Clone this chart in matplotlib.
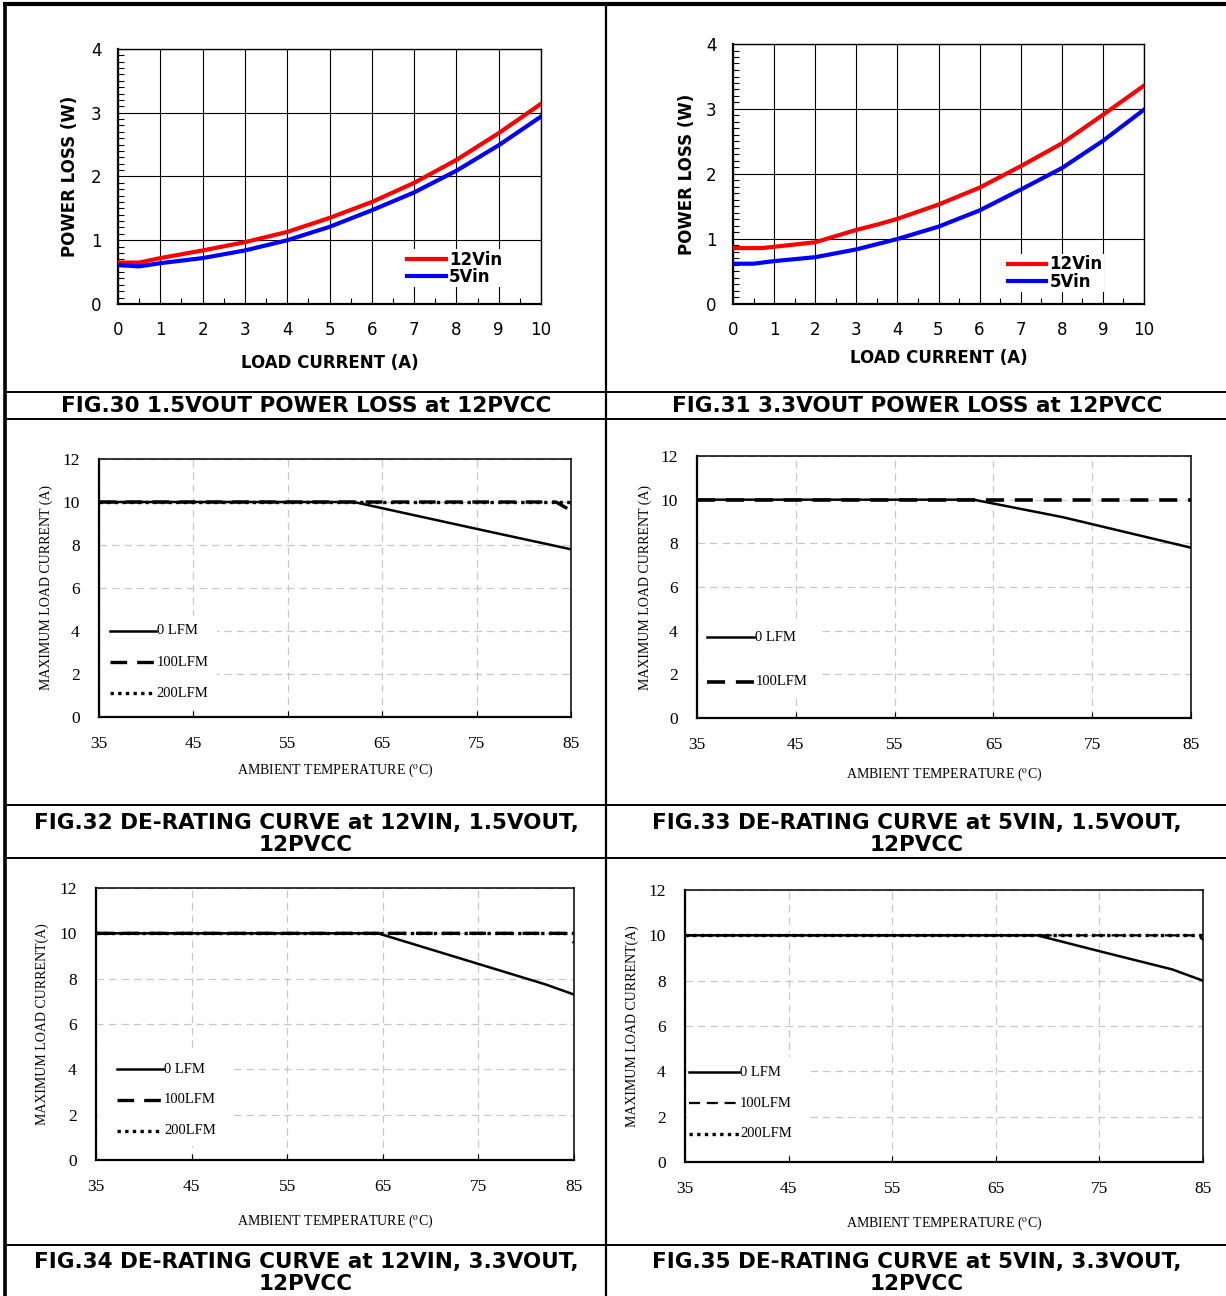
import matplotlib
matplotlib.use("Agg")
import matplotlib.pyplot as plt
from matplotlib.lines import Line2D
from matplotlib.ticker import MultipleLocator

W, H = 1226, 1296
DPI = 100
plt.rcParams['mathtext.fontset'] = 'stix'

# ---------------- DATA ----------------
# FIG.30 1.5VOUT power loss
f30_x12 = [0, 0.5, 1, 1.5, 2, 3, 4, 5, 6, 7, 8, 9, 10]
f30_y12 = [0.65, 0.65, 0.72, 0.78, 0.84, 0.97, 1.13, 1.35, 1.60, 1.90, 2.26, 2.68, 3.14]
f30_x5 = [0, 0.5, 1, 2, 3, 4, 5, 6, 7, 8, 9, 10]
f30_y5 = [0.61, 0.59, 0.64, 0.72, 0.84, 1.00, 1.21, 1.47, 1.75, 2.09, 2.49, 2.94]

# FIG.31 3.3VOUT power loss
f31_x12 = [0, 0.7, 1, 2, 3, 3.5, 4, 5, 6, 7, 8, 9, 10]
f31_y12 = [0.86, 0.86, 0.88, 0.95, 1.14, 1.22, 1.31, 1.53, 1.79, 2.12, 2.47, 2.91, 3.36]
f31_x5 = [0, 0.5, 1, 2, 3, 4, 5, 6, 7, 8, 9, 10]
f31_y5 = [0.62, 0.62, 0.66, 0.72, 0.84, 1.00, 1.19, 1.44, 1.76, 2.09, 2.51, 2.99]

# FIG.32 de-rating 12VIN 1.5VOUT
f32_t0 = [35, 62, 75, 85]
f32_i0 = [10, 10, 8.75, 7.8]
f32_t100 = [35, 83.4, 85]
f32_i100 = [10, 10, 9.6]
f32_t200 = [35, 85]
f32_i200 = [10, 10]

# FIG.33 de-rating 5VIN 1.5VOUT
f33_t0 = [35, 63, 72, 85]
f33_i0 = [10, 10, 9.2, 7.8]
f33_t100 = [35, 85]
f33_i100 = [10, 10]

# FIG.34 de-rating 12VIN 3.3VOUT
f34_t0 = [35, 64.5, 75, 82, 85]
f34_i0 = [10, 10, 8.65, 7.75, 7.3]
f34_t100 = [35, 84, 85]
f34_i100 = [10, 10, 9.6]
f34_t200 = [35, 85]
f34_i200 = [10, 10]

# FIG.35 de-rating 5VIN 3.3VOUT
f35_t0 = [35, 69, 75, 82, 85]
f35_i0 = [10, 10, 9.3, 8.5, 8.0]
f35_t100 = [35, 84.5, 85]
f35_i100 = [10, 10, 9.8]
f35_t200 = [35, 85]
f35_i200 = [10, 10]

loss_xticks = list(range(0, 11))
loss_yticks = [0, 1, 2, 3, 4]
temp_xticks = [35, 45, 55, 65, 75, 85]
cur_yticks = [0, 2, 4, 6, 8, 10, 12]

captions = [
    ("FIG.30 1.5VOUT POWER LOSS at 12PVCC", 306, 406),
    ("FIG.31 3.3VOUT POWER LOSS at 12PVCC", 917, 406),
    ("FIG.32 DE-RATING CURVE at 12VIN, 1.5VOUT,\n12PVCC", 306, 834),
    ("FIG.33 DE-RATING CURVE at 5VIN, 1.5VOUT,\n12PVCC", 917, 834),
    ("FIG.34 DE-RATING CURVE at 12VIN, 3.3VOUT,\n12PVCC", 306, 1273),
    ("FIG.35 DE-RATING CURVE at 5VIN, 3.3VOUT,\n12PVCC", 917, 1273),
]

fig = plt.figure(figsize=(W / DPI, H / DPI), dpi=DPI)
fig.patch.set_facecolor('white')


def box(l, t, r, b):
    return [l / W, 1 - b / H, (r - l) / W, (b - t) / H]


def fx(x):
    return x / W


def fy(y):
    return 1 - y / H


# ---------------- table lines ----------------
def hline(y, x0, x1, lw):
    fig.add_artist(Line2D([fx(x0), fx(x1)], [fy(y), fy(y)], color='black', lw=lw,
                          transform=fig.transFigure, solid_capstyle='butt'))


def vline(x, y0, y1, lw):
    fig.add_artist(Line2D([fx(x), fx(x)], [fy(y0), fy(y1)], color='black', lw=lw,
                          transform=fig.transFigure, solid_capstyle='butt'))


hline(4, 3, W, 3.0)
vline(4.5, 2, H, 2.6)
vline(606, 2, H, 1.6)
for yy in (392, 419, 805, 858, 1245):
    hline(yy, 4, W, 1.4)

# ---------------- power loss charts ----------------
def loss_chart(rect, x12, y12, x5, y5, leg_anchor, ylab_x, xlab_y):
    ax = fig.add_axes(rect)
    ax.plot(x12, y12, color='#ff0000', lw=3.0, label='12Vin', zorder=3)
    ax.plot(x5, y5, color='#0000ff', lw=3.0, label='5Vin', zorder=3)
    ax.set_xlim(0, 10)
    ax.set_ylim(0, 4)
    ax.set_xticks(loss_xticks)
    ax.set_yticks(loss_yticks)
    ax.xaxis.set_minor_locator(MultipleLocator(0.5))
    ax.yaxis.set_minor_locator(MultipleLocator(0.1))
    ax.grid(True, which='major', color='black', lw=0.8)
    ax.tick_params(which='both', direction='in', length=4, width=0.8, labelsize=12,
                   pad=12)
    ax.tick_params(which='major', length=0)
    for s in ax.spines.values():
        s.set_linewidth(1.0)
    ax.spines['left'].set_linewidth(1.6)
    ax.spines['bottom'].set_linewidth(1.6)
    ax.legend(loc='lower left', bbox_to_anchor=leg_anchor, frameon=True,
              fancybox=False, edgecolor='none', facecolor='white', framealpha=1,
              prop={'weight': 'bold', 'size': 12}, handlelength=2.3,
              handletextpad=0.2, labelspacing=-0.05, borderpad=0.1,
              borderaxespad=0)
    ax.set_ylabel('POWER LOSS (W)', fontsize=12, fontweight='bold')
    ax.yaxis.set_label_coords(ylab_x, 0.5)
    ax.set_xlabel('LOAD CURRENT (A)', fontsize=12, fontweight='bold')
    ax.xaxis.set_label_coords(0.5, xlab_y)
    return ax


loss_chart(box(118, 49, 541, 304), f30_x12, f30_y12, f30_x5, f30_y5,
           (0.68, 0.065), -0.092, -0.195)
loss_chart(box(733, 44, 1144, 304), f31_x12, f31_y12, f31_x5, f31_y5,
           (0.665, 0.045), -0.09, -0.175)

# ---------------- de-rating charts ----------------
SERIF = 'Liberation Serif'


def derate_chart(rect, series, leg_x0, leg_ys, ylabel, ylab_x, xlab_y, leg_bg_right):
    ax = fig.add_axes(rect)
    ax.set_xlim(35, 85)
    ax.set_ylim(0, 12)
    ax.set_xticks(temp_xticks)
    ax.set_yticks(cur_yticks)
    ax.grid(True, color='#c8c8c8', lw=0.9, ls=(0, (6, 4)))
    ax.set_axisbelow(True)
    ax.tick_params(direction='in', length=4, width=0.8, labelsize=12.5, pad=14,
                   left=False)
    for lab in ax.get_xticklabels() + ax.get_yticklabels():
        lab.set_fontfamily(SERIF)
    for s in ax.spines.values():
        s.set_linewidth(1.1)
    ax.spines['bottom'].set_linewidth(1.6)
    ax.spines['left'].set_linewidth(1.6)
    # legend background (white patch covering grid)
    ax.add_patch(plt.Rectangle((35.2, leg_ys[-1] - 0.7), leg_bg_right - 35.2,
                               leg_ys[0] - leg_ys[-1] + 1.4, facecolor='white',
                               edgecolor='none', zorder=1.5))
    for (xs, ys, style, lw, lab), ly in zip(series, leg_ys):
        ax.plot(xs, ys, color='black', lw=lw, ls=style, zorder=3 if style == '-' else 2.5)
        ax.plot([leg_x0, leg_x0 + 4.8], [ly, ly], color='black', lw=lw, ls=style,
                zorder=3)
        ax.text(leg_x0 + 4.9, ly, lab, fontsize=10.5, family=SERIF, va='center',
                ha='left', zorder=3)
    ax.set_ylabel(ylabel, fontsize=10, family=SERIF)
    ax.yaxis.set_label_coords(ylab_x, 0.5)
    ax.set_xlabel(r'AMBIENT TEMPERATURE ($^{\mathrm{o}}$C)', fontsize=10, family=SERIF)
    ax.xaxis.set_label_coords(0.5, xlab_y)
    return ax


DASH = (0, (5, 3))
DOT = (0, (1, 1.3))

derate_chart(box(99, 459, 571, 717),
             [(f32_t0, f32_i0, '-', 1.8, '0 LFM'),
              (f32_t100, f32_i100, DASH, 2.4, '100LFM'),
              (f32_t200, f32_i200, DOT, 2.4, '200LFM')],
             36.2, [4.0, 2.55, 1.1], 'MAXIMUM LOAD CURRENT (A)', -0.098, -0.175, 47.5)

derate_chart(box(697, 456, 1191, 718),
             [(f33_t0, f33_i0, '-', 1.8, '0 LFM'),
              (f33_t100, f33_i100, DASH, 2.6, '100LFM')],
             36.0, [3.7, 1.65], 'MAXIMUM LOAD CURRENT (A)', -0.091, -0.18, 47.5)

derate_chart(box(96, 888, 574, 1160),
             [(f34_t0, f34_i0, '-', 1.8, '0 LFM'),
              (f34_t100, f34_i100, DASH, 2.4, '100LFM'),
              (f34_t200, f34_i200, DOT, 2.4, '200LFM')],
             37.2, [4.0, 2.65, 1.3], 'MAXIMUM LOAD CURRENT(A)', -0.098, -0.195, 49.0)

derate_chart(box(685, 890, 1203, 1162),
             [(f35_t0, f35_i0, '-', 1.8, '0 LFM'),
              (f35_t100, f35_i100, DASH, 1.6, '100LFM'),
              (f35_t200, f35_i200, DOT, 2.4, '200LFM')],
             35.4, [3.95, 2.6, 1.25], 'MAXIMUM LOAD CURRENT(A)', -0.089, -0.195, 47.0)

# ---------------- captions ----------------
for txt, cx, cy in captions:
    fig.text(fx(cx), fy(cy), txt, ha='center', va='center', fontsize=15.5,
             fontweight='bold', family='DejaVu Sans', linespacing=1.12)

fig.savefig('out.png', dpi=DPI, facecolor='white')
